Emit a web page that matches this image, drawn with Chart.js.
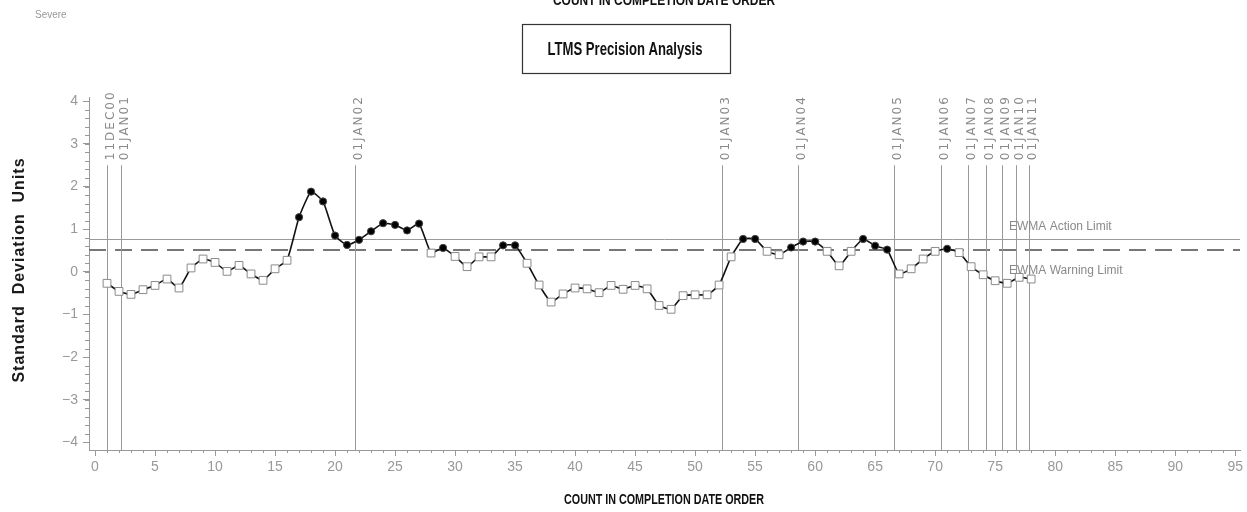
<!DOCTYPE html>
<html>
<head>
<meta charset="utf-8">
<script src="https://cdn.jsdelivr.net/npm/chart.js@4/dist/chart.umd.min.js"></script>
<style>
  body { margin: 0; background: #fff; }
  canvas { display: block; }
</style>
</head>
<body>
<canvas id="chart" width="1247" height="512"></canvas>
<script>
// EWMA values, one per test in completion date order (count 1..78)
const ewma = [
  -0.27, -0.46, -0.53, -0.42, -0.32, -0.17, -0.38, 0.09, 0.30, 0.22,
  0.01, 0.15, -0.05, -0.20, 0.07, 0.27, 1.28, 1.88, 1.65, 0.85,
  0.63, 0.75, 0.95, 1.14, 1.10, 0.97, 1.13, 0.44, 0.56, 0.36,
  0.12, 0.35, 0.35, 0.62, 0.62, 0.20, -0.31, -0.71, -0.52, -0.38,
  -0.40, -0.49, -0.32, -0.41, -0.32, -0.40, -0.79, -0.88, -0.56, -0.54,
  -0.54, -0.31, 0.35, 0.77, 0.77, 0.48, 0.40, 0.57, 0.71, 0.71,
  0.48, 0.14, 0.48, 0.77, 0.61, 0.52, -0.05, 0.07, 0.30, 0.48,
  0.54, 0.45, 0.12, -0.07, -0.21, -0.27, -0.13, -0.17
];
const actionLimit = 0.78;
const warnLimit = 0.50;

// year markers (count position, label)
const markerPos = [1.0, 2.2, 21.7, 52.2, 58.6, 66.6, 70.5, 72.7, 74.2, 75.6, 76.7, 77.8];
const markerLabels = ["11DEC00", "01JAN01", "01JAN02", "01JAN03", "01JAN04", "01JAN05",
                      "01JAN06", "01JAN07", "01JAN08", "01JAN09", "01JAN10", "01JAN11"];

const xTicks = [0, 5, 10, 15, 20, 25, 30, 35, 40, 45, 50, 55, 60, 65, 70, 75, 80, 85, 90, 95];
const yTicks = [-4, -3, -2, -1, 0, 1, 2, 3, 4];

const points = ewma.map((v, i) => ({ x: i + 1, y: v }));

// draw text squeezed to a given width (reference uses a condensed bold face)
function narrowText(c, txt, cx, cy, width) {
  const w = c.measureText(txt).width;
  c.save();
  c.translate(cx, cy);
  c.scale(width / w, 1);
  c.fillText(txt, 0, 0);
  c.restore();
}

const overlay = {
  id: "overlay",
  beforeDatasetsDraw(chart) {
    const c = chart.ctx, x = chart.scales.x, y = chart.scales.y, a = chart.chartArea;
    c.save();
    // minor ticks
    c.strokeStyle = "#999";
    c.lineWidth = 1;
    c.beginPath();
    for (let v = -4; v <= 4.001; v += 0.2) {
      const py = Math.round(y.getPixelForValue(v)) + 0.5;
      c.moveTo(a.left - 4, py); c.lineTo(a.left, py);
    }
    for (let v = 0; v <= 95; v++) {
      const px = Math.round(x.getPixelForValue(v)) + 0.5;
      c.moveTo(px, a.bottom); c.lineTo(px, a.bottom + 3);
    }
    c.stroke();

    // limit lines
    const ya = Math.round(y.getPixelForValue(actionLimit)) + 0.5;
    c.strokeStyle = "#9a9a9a";
    c.beginPath(); c.moveTo(a.left, ya); c.lineTo(a.right, ya); c.stroke();
    const yw = Math.round(y.getPixelForValue(warnLimit));
    c.strokeStyle = "#777";
    c.lineWidth = 2;
    c.setLineDash([17, 9]);
    c.beginPath(); c.moveTo(a.left, yw); c.lineTo(a.right, yw); c.stroke();
    c.setLineDash([]);

    // year marker lines and labels
    c.lineWidth = 1;
    c.strokeStyle = "#999";
    const top = y.getPixelForValue(2.5);
    c.font = '12px "DejaVu Sans", sans-serif';
    c.fillStyle = "#8a8a8a";
    c.textAlign = "left";
    c.textBaseline = "middle";
    c.letterSpacing = "2px";
    markerPos.forEach((m, i) => {
      const px = Math.round(x.getPixelForValue(m)) + 0.5;
      c.beginPath(); c.moveTo(px, top); c.lineTo(px, a.bottom); c.stroke();
      c.save();
      c.translate(px + 3, top - 5);
      c.rotate(-Math.PI / 2);
      c.fillText(markerLabels[i], 0, 0);
      c.restore();
    });
    c.letterSpacing = "0px";

    // limit labels
    c.font = '12px "Liberation Sans", sans-serif';
    c.fillStyle = "#8a8a8a";
    c.fillText("EWMA Action Limit", 1009, ya - 13);
    c.fillText("EWMA Warning Limit", 1009, yw + 21);
    c.restore();
  },
  afterDraw(chart) {
    const c = chart.ctx;
    c.save();
    c.fillStyle = "#999";
    c.font = '10px "Liberation Sans", sans-serif';
    c.textAlign = "left";
    c.textBaseline = "middle";
    c.fillText("Severe", 35, 15);

    c.fillStyle = "#111";
    c.textAlign = "center";
    c.font = 'bold 14px "Liberation Sans", sans-serif';
    narrowText(c, "COUNT IN COMPLETION DATE ORDER", 664, 1, 222);
    narrowText(c, "COUNT IN COMPLETION DATE ORDER", 664, 500, 200);

    // boxed title
    c.strokeStyle = "#333";
    c.lineWidth = 1.2;
    c.strokeRect(522.5, 24.5, 208, 49);
    c.font = 'bold 18px "Liberation Sans", sans-serif';
    narrowText(c, "LTMS Precision Analysis", 625, 50, 155);

    // y title
    c.save();
    c.translate(20, 270);
    c.rotate(-Math.PI / 2);
    c.font = 'bold 16px "Liberation Sans", sans-serif';
    c.letterSpacing = "1px";
    c.fillStyle = "#1a1a1a";
    c.fillText("Standard  Deviation  Units", 0, 0);
    c.restore();
    c.restore();
  }
};

const tickFont = { family: '"Liberation Sans", sans-serif', size: 14 };

new Chart(document.getElementById("chart").getContext("2d"), {
  type: "scatter",
  data: {
    datasets: [{
      data: points,
      showLine: true,
      borderColor: "#111",
      borderWidth: 1.6,
      tension: 0.15,
      pointStyle: c => (c.raw && c.raw.y > warnLimit ? "circle" : "rect"),
      pointRadius: c => (c.raw && c.raw.y > warnLimit ? 3.6 : 5.5),
      pointBackgroundColor: c => (c.raw && c.raw.y > warnLimit ? "#000" : "#fff"),
      pointBorderColor: c => (c.raw && c.raw.y > warnLimit ? "#444" : "#8a8a8a"),
      pointBorderWidth: 1
    }]
  },
  options: {
    responsive: false,
    animation: false,
    layout: { padding: { left: 0, right: 7, top: 97, bottom: 0 } },
    plugins: { legend: { display: false }, tooltip: { enabled: false } },
    scales: {
      x: {
        type: "linear",
        min: -0.5,
        max: 95.4,
        afterBuildTicks: s => { s.ticks = xTicks.map(v => ({ value: v })); },
        afterFit: s => { s.height = 62; },
        border: { color: "#999", width: 1 },
        grid: { drawOnChartArea: false, tickLength: 6, color: "#999" },
        ticks: { color: "#999", font: tickFont, padding: 3, maxRotation: 0 }
      },
      y: {
        min: -4.18,
        max: 4.1,
        afterBuildTicks: s => { s.ticks = yTicks.map(v => ({ value: v })); },
        afterFit: s => { s.width = 89; },
        border: { color: "#999", width: 1 },
        grid: { drawOnChartArea: false, tickLength: 6, color: "#999" },
        ticks: {
          color: "#999",
          font: tickFont,
          padding: 5,
          callback: v => String(v).replace("-", "\u2212")
        }
      }
    }
  },
  plugins: [overlay]
});
</script>
</body>
</html>
